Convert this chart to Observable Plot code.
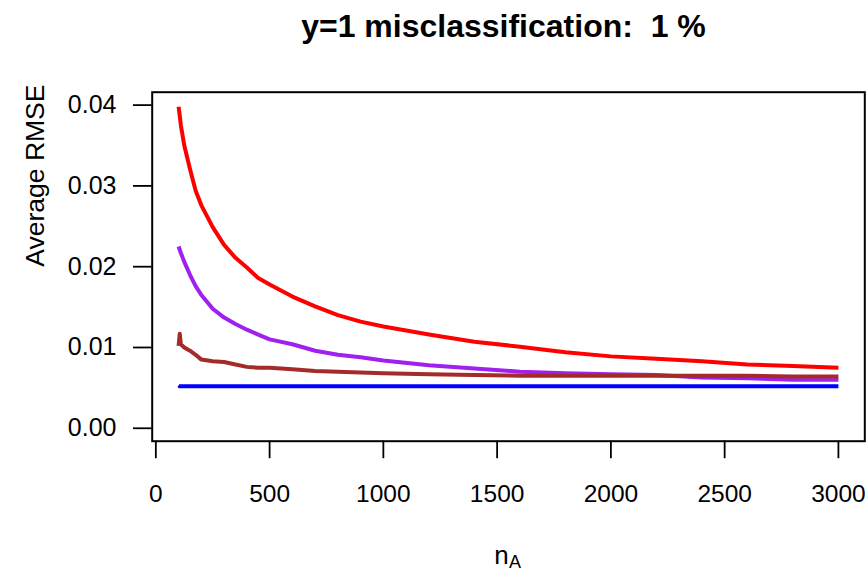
<!DOCTYPE html>
<html>
<head>
<meta charset="utf-8">
<script src="https://cdn.jsdelivr.net/npm/d3@7"></script>
<script src="https://cdn.jsdelivr.net/npm/@observablehq/plot@0.6"></script>
<style>
  html, body { margin: 0; padding: 0; background: #fff; }
  #wrap { width: 866px; height: 571px; position: relative; overflow: hidden; }
  #title {
    height: 60px; box-sizing: border-box; margin-left: 141px; width: 725px;
    text-align: center; font-family: "Liberation Sans", Arial, sans-serif;
    font-weight: bold; font-size: 32px; line-height: 32px; padding-top: 10.4px; color: #000;
    white-space: pre;
  }
</style>
</head>
<body>
<div id="wrap">
  <div id="title">y=1 misclassification:  1 %</div>
  <div id="chart"></div>
</div>
<script>
// sample sizes n_A
const nA = [100, 105, 110, 125, 150, 175, 200, 250, 300, 350, 400, 450, 500, 600, 700, 800, 900, 1000,
            1200, 1400, 1600, 1800, 2000, 2200, 2400, 2600, 2800, 3000];
// average RMSE per method
const redV = [0.0398, 0.0387, 0.0375, 0.0350, 0.0321, 0.0294, 0.0276, 0.0249, 0.0227, 0.0211, 0.0199, 0.0186,
              0.0178, 0.0163, 0.0151, 0.0140, 0.0132, 0.0126, 0.0116, 0.0107, 0.0101, 0.0094, 0.0089,
              0.0086, 0.0083, 0.0079, 0.0077, 0.0075];
const purpleV = [0.0225, 0.0221, 0.0217, 0.0206, 0.0190, 0.0176, 0.0165, 0.0148, 0.0137, 0.0129, 0.0122, 0.0116,
                 0.0110, 0.0104, 0.0096, 0.0091, 0.0088, 0.0084, 0.0078, 0.0074, 0.0070, 0.0068, 0.0067,
                 0.0066, 0.0063, 0.0062, 0.0060, 0.0060];
const brownV = [0.0102, 0.0117, 0.0104, 0.0100, 0.0096, 0.0091, 0.0085, 0.0083, 0.0082, 0.0079, 0.0076, 0.0075,
                0.0075, 0.0073, 0.0071, 0.0070, 0.0069, 0.0068, 0.0067, 0.0066, 0.0065, 0.0065, 0.0065,
                0.0065, 0.0065, 0.0065, 0.0064, 0.0064];
const blueV = [0.0053, 0.0052, 0.0052, 0.0052, 0.0052, 0.0052, 0.0052, 0.0052, 0.0052, 0.0052, 0.0052, 0.0052,
               0.0052, 0.0052, 0.0052, 0.0052, 0.0052, 0.0052, 0.0052, 0.0052, 0.0052, 0.0052, 0.0052,
               0.0052, 0.0052, 0.0052, 0.0052, 0.0052];
const xTicks = [0, 500, 1000, 1500, 2000, 2500, 3000];
const yTicks = [0, 0.01, 0.02, 0.03, 0.04];

const seriesList = [
  {values: redV, color: "#FF0000"},
  {values: purpleV, color: "#A020F0"},
  {values: brownV, color: "#A52A2A"},
  {values: blueV, color: "#0000FF"}
];
const rows = s => nA.map((n, i) => ({n, v: s.values[i]}));

const font = "'Liberation Sans', Arial, sans-serif";
const chart = Plot.plot({
  width: 866,
  height: 511,
  marginTop: 31.7,
  marginLeft: 151.7,
  marginRight: 1.7,
  marginBottom: 130.3,
  style: {fontFamily: font, background: "#fff", color: "#000", overflow: "visible"},
  x: {domain: [-16, 3116]},
  y: {domain: [-0.0016, 0.0416]},
  marks: [
    ...seriesList.map(s => Plot.line(rows(s), {x: "n", y: "v", stroke: s.color, strokeWidth: 4, strokeLinecap: "butt"})),
    Plot.frame({stroke: "#000", strokeWidth: 2}),
    Plot.axisX({ticks: xTicks, tickSize: 17.5, tickPadding: 26, fontSize: 24.5,
                tickFormat: d3.format("d"), strokeWidth: 1.8, label: null}),
    Plot.axisY({ticks: yTicks, tickSize: 18.7, tickPadding: 17, fontSize: 25,
                tickFormat: d3.format(".2f"), strokeWidth: 1.8, label: null}),
    Plot.text([0], {frameAnchor: "left", text: () => "Average RMSE", rotate: -90, dx: -116.7, fontSize: 26.5}),
    Plot.text([0], {frameAnchor: "bottom", text: () => "n", dx: -7, dy: 122.5, lineAnchor: "bottom", fontSize: 26}),
    Plot.text([0], {frameAnchor: "bottom", text: () => "A", textAnchor: "start", dx: 0.5, dy: 126.5, lineAnchor: "bottom", fontSize: 18})
  ]
});
document.getElementById("chart").appendChild(chart);
</script>
</body>
</html>
